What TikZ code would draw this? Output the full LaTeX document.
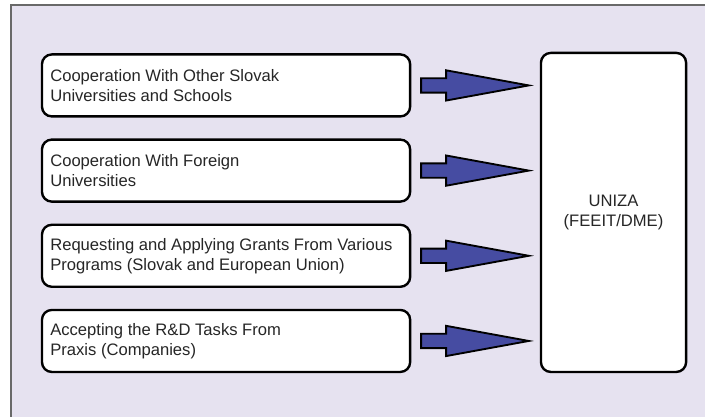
\documentclass[tikz,border=0pt]{standalone}
\usepackage{fontspec}
\setmainfont{Liberation Sans}
\usetikzlibrary{positioning,calc}

\definecolor{panel}{RGB}{230,226,240}
\definecolor{framegray}{RGB}{105,105,105}
\definecolor{arrowblue}{RGB}{70,76,162}

\tikzset{
  task/.style={draw,
    rounded corners=0.26cm,
    line width=1.8pt,
    fill=white,
    text=black!85,
    text width=9.3cm,
    inner xsep=0.22cm,
    minimum height=1.64cm,
    align=flush left,
    font=\fontsize{12.5}{15}\selectfont},
  unit/.style={draw,
    rounded corners=0.26cm,
    line width=1.8pt,
    fill=white,
    text=black!85,
    minimum width=3.84cm,
    minimum height=8.44cm,
    align=center,
    font=\fontsize{12.5}{15}\selectfont},
  fatarrow/.style={draw,
    line width=1.4pt,
    fill=arrowblue,
    line join=miter}
}

\begin{document}
\begin{tikzpicture}

\useasboundingbox (0,0) rectangle (18.65,11.03);

% Background panel, open at the right and at the bottom
\fill[panel] (0.29,-0.5) rectangle (19,10.9);
\draw[framegray, line width=1pt] (0.29,-0.5) -- (0.29,10.9) -- (19,10.9);

% First source box
\node[task] (slovak) at (5.98,8.77)
    {Cooperation With Other Slovak\\Universities and Schools};

% Second source box
\node[task, below=0.55cm of slovak] (foreign)
    {Cooperation With Foreign\\Universities};

% Third source box
\node[task, below=0.55cm of foreign] (grants)
    {Requesting and Applying Grants From Various\\Programs (Slovak and European Union)};

% Fourth source box
\node[task, below=0.55cm of grants] (praxis)
    {Accepting the R\&D Tasks From\\Praxis (Companies)};

% Tall box on the right
\node[unit] (uniza) at (16.23,5.41) {UNIZA\\(FEEIT/DME)};

% Block arrows from each source box to the tall box
\foreach \src in {slovak,foreign,grants,praxis}{
  \coordinate (tail) at ($(\src.east)+(0.26,0)$);
  \coordinate (tip) at ($(\src.east -| uniza.west)+(-0.29,0)$);
  \draw[fatarrow] ($(tail)+(0,0.19)$) -- ++(0.66,0) -- ++(0,0.21) -- (tip)
      -- ($(tail)+(0.66,-0.40)$) -- ++(0,0.21) -- ($(tail)+(0,-0.19)$) -- cycle;
}

\end{tikzpicture}
\end{document}
